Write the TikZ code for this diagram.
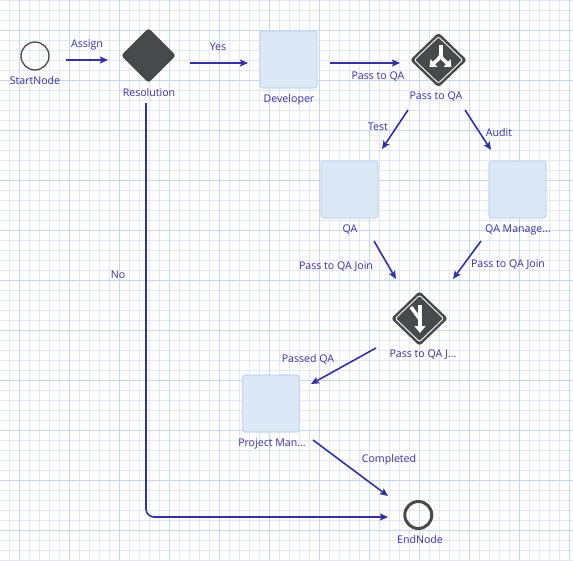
\documentclass[tikz,border=0pt]{standalone}
\usepackage{fontspec}
\setmainfont{Open Sans}
\usetikzlibrary{arrows.meta,calc,shapes.geometric}
\definecolor{gridminor}{HTML}{DFE8F4}
\definecolor{gridmajor}{HTML}{C6D6EB}
\definecolor{conncol}{HTML}{35319A}
\definecolor{txtcol}{HTML}{3B2E9E}
\definecolor{boxfill}{HTML}{DCE8F6}
\definecolor{boxline}{HTML}{C6D9F0}
\definecolor{gatecol}{HTML}{48494B}
\definecolor{circcol}{HTML}{4A4A4A}
\tikzset{
  lbl/.style={text=txtcol,font=\fontsize{10.6}{12}\selectfont,inner sep=0pt},
  conn/.style={draw=conncol,line width=1.6pt,-{Stealth[length=8pt,width=7pt,inset=1.5pt]}},
  taskbox/.style={draw=boxline,fill=boxfill,line width=1.4pt,rounded corners=3pt,minimum width=57pt,minimum height=57pt,inner sep=0pt},
  gate/.style={diamond,fill=gatecol,rounded corners=3pt,minimum width=57pt,minimum height=55pt,inner sep=0pt},
  evstart/.style={circle,draw=circcol,line width=1.3pt,minimum size=28pt,inner sep=0pt},
  evend/.style={circle,draw=circcol,line width=3pt,minimum size=27pt,inner sep=0pt},
  iconline/.style={draw=white,line width=4pt},
}
\begin{document}
\begin{tikzpicture}[x=1pt,y=-1pt]
\useasboundingbox (0,0) rectangle (573,560);
\fill[white] (0,0) rectangle (573,560);
% grid
\foreach \gx in {9,19,...,569} {\draw[gridminor,line width=1pt] (\gx,0) -- (\gx,560);}
\foreach \gy in {0,10,...,560} {\draw[gridminor,line width=1pt] (0,\gy) -- (573,\gy);}
\foreach \gx in {19,69,...,569} {\draw[gridmajor,line width=1pt] (\gx,0) -- (\gx,560);}
\foreach \gy in {30,80,...,530} {\draw[gridmajor,line width=1pt] (0,\gy) -- (573,\gy);}

% nodes
\node[evstart] (start) at (35,56) {};
\node[lbl] (startl) at (35,81) {StartNode};
\node[gate,minimum width=55pt] (res) at (148.5,55.5) {};
\node[lbl] (resl) at (149,93) {Resolution};
\node[taskbox] (dev) at (288.5,59.5) {};
\node[lbl] (devl) at (289,100) {Developer};
\node[gate] (fork) at (438.5,60) {};
\node[lbl] (forkl) at (436,97) {Pass to QA};
\node[taskbox] (qa) at (349.5,189.5) {};
\node[lbl] (qal) at (350,230) {QA};
\node[taskbox] (qam) at (517.5,189.5) {};
\node[lbl] (qaml) at (518,230) {QA Manage...};
\node[gate] (join) at (419.5,318.5) {};
\node[lbl] (joinl) at (423,355) {Pass to QA J...};
\node[taskbox] (pm) at (271,403.5) {};
\node[lbl] (pml) at (272,444) {Project Man...};
\node[evend] (end) at (418.3,515) {};
\node[lbl] (endl) at (420,540) {EndNode};

% gateway inner borders and icons
\foreach \g in {fork,join} {
  \draw[white,line width=0.9pt,rounded corners=2pt]
    ($(\g.north)+(0,4.5)$) -- ($(\g.east)+(-4.5,0)$) -- ($(\g.south)+(0,-4.5)$) -- ($(\g.west)+(4.5,0)$) -- cycle;
}
\begin{scope}[shift={(fork.center)}]
  \draw[iconline] (2,-15) -- (2,-3);
  \draw[iconline,line width=3.5pt,-{Triangle[length=6pt,width=10pt]}] (2,-4) .. controls (0,-1) .. (-9,7);
  \draw[iconline,line width=3.5pt,-{Triangle[length=6pt,width=10pt]}] (2,-4) .. controls (4,-1) .. (13,7);
\end{scope}
\begin{scope}[shift={(join.center)}]
  \draw[iconline,-{Triangle[length=7pt,width=11pt]}] (0.5,-13.5) -- (0.5,14.5);
  \draw[iconline,line width=3.5pt] (-8.5,-11.5) -- (0.5,1);
\end{scope}

% connectors
\draw[conn] ($(start.center)+(31,4)$) -- node[lbl,above=9pt] (assignl) {Assign} ($(res.center)+(-40.5,4.5)$);
\draw[conn] ($(res.center)+(41.5,7.5)$) -- ($(dev.center)+(-40.5,3.5)$);
\node[lbl] (yesl) at (218,47) {Yes};
\draw[conn] ($(dev.center)+(41.5,3.5)$) -- ($(fork.center)+(-38.5,3)$);
\node[lbl] (ptql) at (378,77) {Pass to QA};
\draw[conn] ($(fork.center)+(-30.5,50)$) -- ($(qa.center)+(32.5,-40.5)$);
\node[lbl] (testl) at (378,127) {Test};
\draw[conn] ($(fork.center)+(26.5,50)$) -- ($(qam.center)+(-26.5,-39.5)$);
\node[lbl] (auditl) at (499,133) {Audit};
\draw[conn] ($(qa.center)+(24.5,51.5)$) -- ($(join.center)+(-23.5,-39.5)$);
\node[lbl] (j1l) at (336,267) {Pass to QA Join};
\draw[conn] ($(qam.center)+(-36.5,51.5)$) -- ($(join.center)+(33.5,-39.5)$);
\node[lbl] (j2l) at (508,265) {Pass to QA Join};
\draw[conn] ($(join.center)+(-43.5,29.5)$) -- ($(pm.center)+(40,-19.5)$);
\node[lbl] (pqal) at (308,359) {Passed QA};
\draw[conn] ($(pm.center)+(42,36.5)$) -- ($(end.center)+(-30.3,-19)$);
\node[lbl] (compl) at (389,460) {Completed};
\draw[conn,rounded corners=8pt] ($(res.center)+(-2.5,47.5)$) -- ($(res.center)+(-2.5,461.5)$) -- ($(end.center)+(-30.3,2)$);
\node[lbl] (nol) at (118,275) {No};
\end{tikzpicture}
\end{document}
